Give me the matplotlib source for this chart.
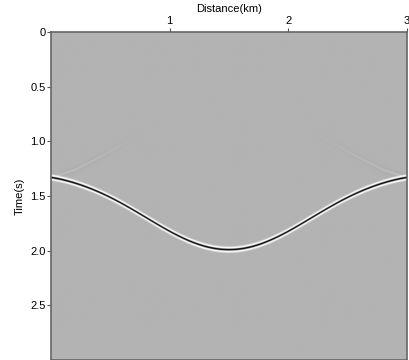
import matplotlib
matplotlib.use("Agg")
import matplotlib.pyplot as plt
import numpy as np

# Reflector picks (distance km, time s)
pick_x = [0.0, 0.25, 0.5, 0.75, 1.0, 1.25, 1.5, 1.75, 2.0, 2.25, 2.5, 2.75, 3.0]
pick_t = [1.33, 1.40, 1.51, 1.67, 1.82, 1.94, 2.00, 1.94, 1.82, 1.67, 1.51, 1.40, 1.33]

# faint edge artifacts (left branch; mirrored on the right)
art_x = [0.0, 0.2, 0.4, 0.6, 0.8]
art_t = [1.33, 1.26, 1.15, 1.03, 0.92]
art_amp = [0.05, 0.04, 0.025, 0.012, 0.0]

y_ticks = [0, 0.5, 1.0, 1.5, 2.0, 2.5]
y_labels = ["0", "0.5", "1.0", "1.5", "2.0", "2.5"]
x_ticks = [1, 2, 3]

plt.rcParams["font.family"] = ["Liberation Sans", "DejaVu Sans"]

freq = 24.0
nx, nt = 800, 1500
xs = np.linspace(0, 3.0, nx)
ts = np.linspace(0, 3.0, nt)


def ricker(tau, f):
    a = (np.pi * f * tau) ** 2
    return (1 - 2 * a) * np.exp(-a)


# smooth curve through the picks
coef = np.polyfit(pick_x, pick_t, 8)
T = ts[:, None]
t0 = np.polyval(coef, xs)[None, :]
img = ricker(T - t0, freq)

# weak artifacts on both sides
for side in (0, 1):
    ax_pts = np.array(art_x) if side == 0 else 3.0 - np.array(art_x)[::-1]
    at_pts = np.array(art_t) if side == 0 else np.array(art_t)[::-1]
    am_pts = np.array(art_amp) if side == 0 else np.array(art_amp)[::-1]
    ta = np.interp(xs, ax_pts, at_pts)[None, :]
    amp = np.interp(xs, ax_pts, am_pts)[None, :]
    img += -amp * ricker(T - ta, 20.0)

fig = plt.figure(figsize=(4.09, 3.6), dpi=100)
ax = fig.add_axes([51 / 409, 0.0, 356 / 409, 1 - 32 / 360])
ax.imshow(img, cmap="gray_r", vmin=-0.3, vmax=0.7, aspect="auto",
          extent=[0, 3.0, 3.0, 0], interpolation="bilinear")
ax.set_xlim(0, 3.0)
ax.set_ylim(3.0, 0)

ax.xaxis.tick_top()
ax.xaxis.set_label_position("top")
ax.set_xticks(x_ticks)
ax.set_xticklabels([str(v) for v in x_ticks])
ax.set_yticks(y_ticks)
ax.set_yticklabels(y_labels)
ax.tick_params(labelsize=8, length=3, width=0.8, colors="#555555", labelcolor="black", pad=1)
ax.set_xlabel("Distance(km)", fontsize=8, labelpad=3)
ax.set_ylabel("Time(s)", fontsize=8, labelpad=4)
for s in ax.spines.values():
    s.set_color("#666666")
    s.set_linewidth(1.2)

fig.savefig("out.png", dpi=100)
